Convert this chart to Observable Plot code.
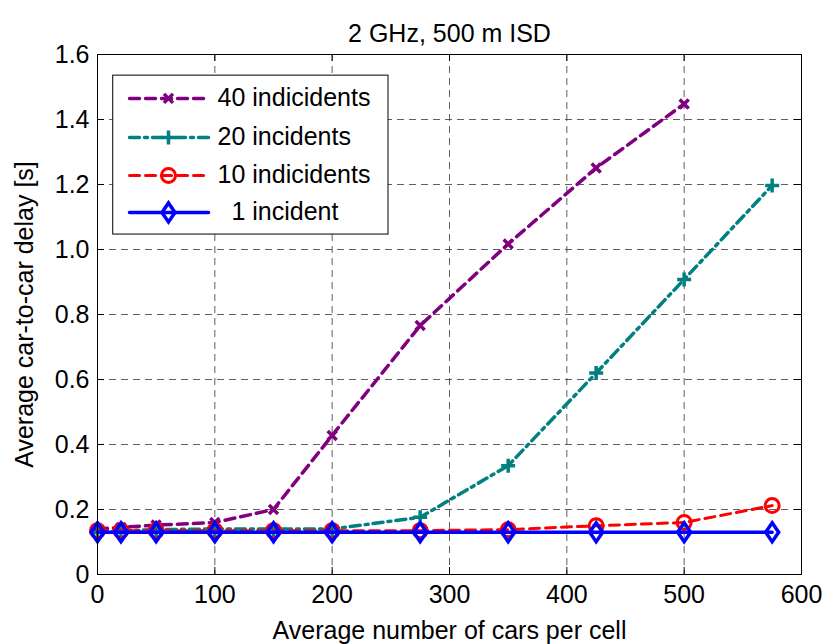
<!DOCTYPE html>
<html><head><meta charset="utf-8">
<script src="https://cdn.jsdelivr.net/npm/d3@7"></script>
<script src="https://cdn.jsdelivr.net/npm/@observablehq/plot@0.6"></script>
<style>body{margin:0;background:#fff}</style>
</head><body><div id="chart"></div>
<script>
const title = "2 GHz, 500 m ISD";
const xLabel = "Average number of cars per cell";
const yLabel = "Average car-to-car delay [s]";
const xTicks = [0, 100, 200, 300, 400, 500, 600];
const yTicks = [0, 0.2, 0.4, 0.6, 0.8, 1.0, 1.2, 1.4, 1.6];
const cars = [0, 20, 50, 100, 150, 200, 275, 350, 425, 500, 575];
const delay40 = [0.14, 0.145, 0.152, 0.16, 0.2, 0.428, 0.766, 1.017, 1.251, 1.448];
const delay20 = [0.13, 0.135, 0.138, 0.14, 0.14, 0.14, 0.176, 0.335, 0.62, 0.908, 1.197];
const delay10 = [0.135, 0.135, 0.135, 0.135, 0.135, 0.135, 0.135, 0.138, 0.15, 0.16, 0.212];
const delay1 = [0.13, 0.13, 0.13, 0.13, 0.13, 0.13, 0.13, 0.13, 0.13, 0.13, 0.13];
const seriesNames = ["40 indicidents", "20 incidents", "10 indicidents", "\u00a0\u00a01 incident"];

const FONT = "'Liberation Sans', Arial, Helvetica, sans-serif";

const symTimes = {draw(c, size) { const s = Math.sqrt(size / Math.PI); const a = 4.5 * s;
  c.moveTo(-a, -a); c.lineTo(a, a); c.moveTo(-a, a); c.lineTo(a, -a); }};
const symPlus = {draw(c, size) { const s = Math.sqrt(size / Math.PI); const a = 7 * s;
  c.moveTo(-a, 0); c.lineTo(a, 0); c.moveTo(0, -a); c.lineTo(0, a); }};
const symCircle = {draw(c, size) { const s = Math.sqrt(size / Math.PI); const r = 7 * s;
  c.moveTo(r, 0); c.arc(0, 0, r, 0, 2 * Math.PI); c.closePath(); }};
const symDiamond = {draw(c, size) { const s = Math.sqrt(size / Math.PI); const w = 6.5 * s, h = 9.5 * s;
  c.moveTo(0, -h); c.lineTo(w, 0); c.lineTo(0, h); c.lineTo(-w, 0); c.closePath(); }};

const series = [
  {name: seriesNames[0], values: delay40, color: "#800080", dash: "10,6", symbol: symTimes, sw: 3.5},
  {name: seriesNames[1], values: delay20, color: "#008080", dash: "10,5,3,5", symbol: symPlus, sw: 3.5},
  {name: seriesNames[2], values: delay10, color: "#ff0000", dash: "10,6", symbol: symCircle, sw: 3},
  {name: seriesNames[3], values: delay1, color: "#0000ff", dash: null, symbol: symDiamond, sw: 3.5}
];

// legend layout in data units (inside the plot box)
const legX1 = 27.3, legX2 = 94.6, legXm = 60.5, legXt = 102.3;
const legRows = [1.465, 1.345, 1.228, 1.114];

const marks = [];
// grid
marks.push(Plot.gridX(xTicks.slice(1, -1), {stroke: "#444", strokeOpacity: 0.85, strokeDasharray: "7,5", strokeWidth: 1}));
marks.push(Plot.gridY(yTicks.slice(1, -1), {stroke: "#444", strokeOpacity: 0.85, strokeDasharray: "7,5", strokeWidth: 1}));

series.forEach(s => {
  const pts = s.values.map((v, i) => ({x: cars[i], y: v}));
  marks.push(Plot.line(pts, {x: "x", y: "y", stroke: s.color, strokeWidth: s.sw, strokeDasharray: s.dash, strokeLinejoin: "miter"}));
  marks.push(Plot.dot(pts, {x: "x", y: "y", r: 1, symbol: () => s.symbol, fill: "none", stroke: s.color, strokeWidth: s.sw}));
});

// legend
marks.push(Plot.rect([0], {x1: 13.4, x2: 248, y1: 1.046, y2: 1.535, fill: "white", stroke: "black", strokeWidth: 1}));
series.forEach((s, i) => {
  const pts = [{x: legX1, y: legRows[i]}, {x: legX2, y: legRows[i]}];
  marks.push(Plot.line(pts, {x: "x", y: "y", stroke: s.color, strokeWidth: s.sw, strokeDasharray: s.dash}));
  marks.push(Plot.dot([{x: legXm, y: legRows[i]}], {x: "x", y: "y", r: 1, symbol: () => s.symbol, fill: "none", stroke: s.color, strokeWidth: s.sw}));
  marks.push(Plot.text([s.name], {x: legXt, y: legRows[i], text: d => d, textAnchor: "start", fill: "black", fontSize: 25}));
});

marks.push(Plot.frame({stroke: "black", strokeWidth: 1}));
// inward ticks on all four sides
marks.push(Plot.tickX(xTicks, {x: d => d, stroke: "black", insetTop: 513}));
marks.push(Plot.tickX(xTicks, {x: d => d, stroke: "black", insetBottom: 513}));
marks.push(Plot.tickY(yTicks, {y: d => d, stroke: "black", insetLeft: 697}));
marks.push(Plot.tickY(yTicks, {y: d => d, stroke: "black", insetRight: 697}));

marks.push(Plot.axisX(xTicks, {tickSize: 0, tickPadding: 11, fontSize: 25, label: xLabel, labelAnchor: "center", labelOffset: 64, labelArrow: "none"}));
marks.push(Plot.axisY(yTicks, {tickSize: 0, tickPadding: 8, fontSize: 25, tickFormat: d => d === 0 ? "0" : d.toFixed(1), label: yLabel, labelAnchor: "center", labelOffset: 82, labelArrow: "none"}));

marks.push(Plot.text([title], {frameAnchor: "top", text: d => d, dy: -30, fontSize: 25, fill: "black"}));

const chart = Plot.plot({
  width: 825, height: 644,
  marginLeft: 97, marginRight: 24, marginTop: 54, marginBottom: 70,
  style: {fontFamily: FONT, fontSize: "25px", color: "black", background: "white"},
  x: {domain: [0, 600]},
  y: {domain: [0, 1.6]},
  marks
});
document.getElementById("chart").appendChild(chart);
</script>
</body></html>
